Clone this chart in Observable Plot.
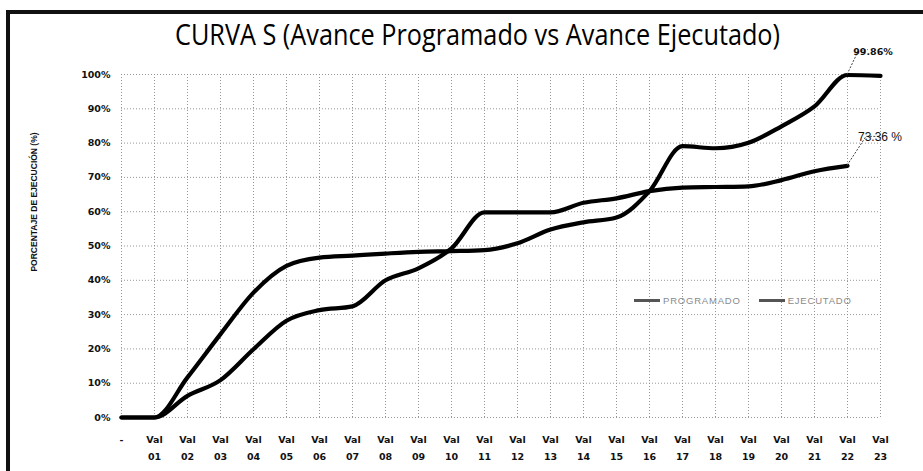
<!DOCTYPE html>
<html>
<head>
<meta charset="utf-8">
<script src="https://cdn.jsdelivr.net/npm/d3@7"></script>
<script src="https://cdn.jsdelivr.net/npm/@observablehq/plot@0.6"></script>
<style>
  html, body { margin: 0; padding: 0; background: #fff; }
  #wrap { position: relative; width: 923px; height: 471px; overflow: hidden; background: #fff; }
  #frame { position: absolute; left: 6px; top: 10px; width: 930px; height: 470px;
           border-top: 4px solid #111; border-left: 4px solid #111; box-sizing: border-box; }
  #title { position: absolute; left: 175px; top: 19px; line-height: 30px; font-size: 30px; font-weight: 500;
           font-family: "Open Sans", sans-serif; color: #000; white-space: nowrap; transform-origin: 0 0; }
  #spacer { height: 40px; }
  #ylabel { position: absolute; left: 34px; top: 202px; transform: translate(-50%, -50%) rotate(-90deg);
            font-family: "Liberation Sans", Arial, sans-serif; font-weight: bold; font-size: 8.5px;
            white-space: nowrap; color: #111; }
  #legend { position: absolute; left: 634px; top: 295px; font-family: "Liberation Sans", Arial, sans-serif;
            font-size: 9.5px; letter-spacing: 0.8px; color: #8a8a8a; white-space: nowrap; display: flex; align-items: center; }
  #legend .sw { display: inline-block; width: 26px; height: 3px; background: #555; margin-right: 3px; }
  #legend .gap { display: inline-block; width: 18px; }
  #chart { position: relative; }
</style>
</head>
<body>
<div id="wrap">
  <div id="frame"></div>
  <div id="spacer"></div>
  <div id="chart"></div>
  <div id="title"><span id="titletext">CURVA S (Avance Programado vs Avance Ejecutado)</span></div>
  <div id="ylabel">PORCENTAJE DE EJECUCIÓN (%)</div>
  <div id="legend"><span class="sw"></span><span>PROGRAMADO</span><span class="gap"></span><span class="sw"></span><span>EJECUTADO</span></div>
</div>
<script>
// ---- data ----
const categories = ["-", "Val 01", "Val 02", "Val 03", "Val 04", "Val 05", "Val 06", "Val 07", "Val 08",
  "Val 09", "Val 10", "Val 11", "Val 12", "Val 13", "Val 14", "Val 15", "Val 16", "Val 17", "Val 18",
  "Val 19", "Val 20", "Val 21", "Val 22", "Val 23"];
const programado = [0, 0, 11.7, 24.3, 36.4, 44.2, 46.6, 47.2, 47.8, 48.3, 48.5, 48.8, 50.8, 54.8, 56.9,
  58.3, 66.0, 79.1, 78.5, 80.1, 84.9, 90.7, 99.86, 99.6];
const ejecutado = [0, 0, 6.3, 10.9, 19.9, 28.2, 31.3, 32.4, 40.0, 43.5, 49.3, 59.8, 59.8, 59.8, 62.6,
  63.9, 66.0, 67.0, 67.2, 67.4, 69.2, 71.8, 73.36];
const yTicks = [0, 10, 20, 30, 40, 50, 60, 70, 80, 90, 100];
const labelProgramado = "99.86%";
const labelEjecutado = "73.36 %";

const progRows = programado.map((v, i) => ({cat: categories[i], v}));
const ejecRows = ejecutado.map((v, i) => ({cat: categories[i], v}));

const gridStyle = {stroke: "#8c8c8c", strokeOpacity: 0.9, strokeDasharray: "1,2", strokeWidth: 1};

const chart = Plot.plot({
  width: 923,
  height: 431,
  marginLeft: 121,
  marginRight: 43,
  marginTop: 34,
  marginBottom: 54,
  x: {type: "point", domain: categories, padding: 0},
  y: {domain: [0, 100]},
  style: {fontFamily: "DejaVu Sans, sans-serif", background: "transparent", overflow: "visible", color: "#111"},
  marks: [
    Plot.gridX(categories, gridStyle),
    Plot.gridY(yTicks, gridStyle),
    Plot.axisX({tickSize: 0, tickPadding: 14, fontWeight: "bold", fontSize: 9.5, lineHeight: 1.75,
      tickFormat: d => d.replace(" ", "\n"), label: null}),
    Plot.axisY(yTicks, {tickSize: 0, tickPadding: 11, fontWeight: "bold", fontSize: 9.5,
      tickFormat: d => d + "%", label: null}),
    Plot.line(progRows, {x: "cat", y: "v", curve: "monotone-x", stroke: "#000", strokeWidth: 4.2}),
    Plot.line(ejecRows, {x: "cat", y: "v", curve: "monotone-x", stroke: "#000", strokeWidth: 4.2})
  ]
});
document.getElementById("chart").appendChild(chart);

// ---- annotations anchored through the chart's scales ----
const sx = chart.scale("x"), sy = chart.scale("y");
const svg = d3.select(chart);
function annotate(cat, value, text, pts, tdx, tdy, font) {
  const x = sx.apply(cat), y = sy.apply(value);
  const path = d3.path();
  path.moveTo(x, y);
  pts.forEach(([dx, dy]) => path.lineTo(x + dx, y + dy));
  svg.append("path").attr("d", path.toString()).attr("fill", "none")
    .attr("stroke", "#444").attr("stroke-width", 1).attr("stroke-dasharray", "2,1.5");
  svg.append("text").attr("x", x + tdx).attr("y", y + tdy).attr("dominant-baseline", "middle")
    .attr("font-family", font.family).attr("font-size", font.size).attr("font-weight", font.weight)
    .attr("fill", "#111").text(text);
}
annotate("Val 22", programado[22], labelProgramado, [[11, -23], [21, -25]], 26, -22,
  {family: "DejaVu Sans, sans-serif", size: 9.5, weight: "bold"});
annotate("Val 22", ejecutado[22], labelEjecutado, [[19, -29], [31, -29]], 33, -28,
  {family: "Liberation Sans, Arial, sans-serif", size: 12, weight: "normal"});

// ---- fit title width ----
const tt = document.getElementById("titletext");
const w = tt.getBoundingClientRect().width;
document.getElementById("title").style.transform = `scaleX(${605 / w})`;
</script>
</body>
</html>
